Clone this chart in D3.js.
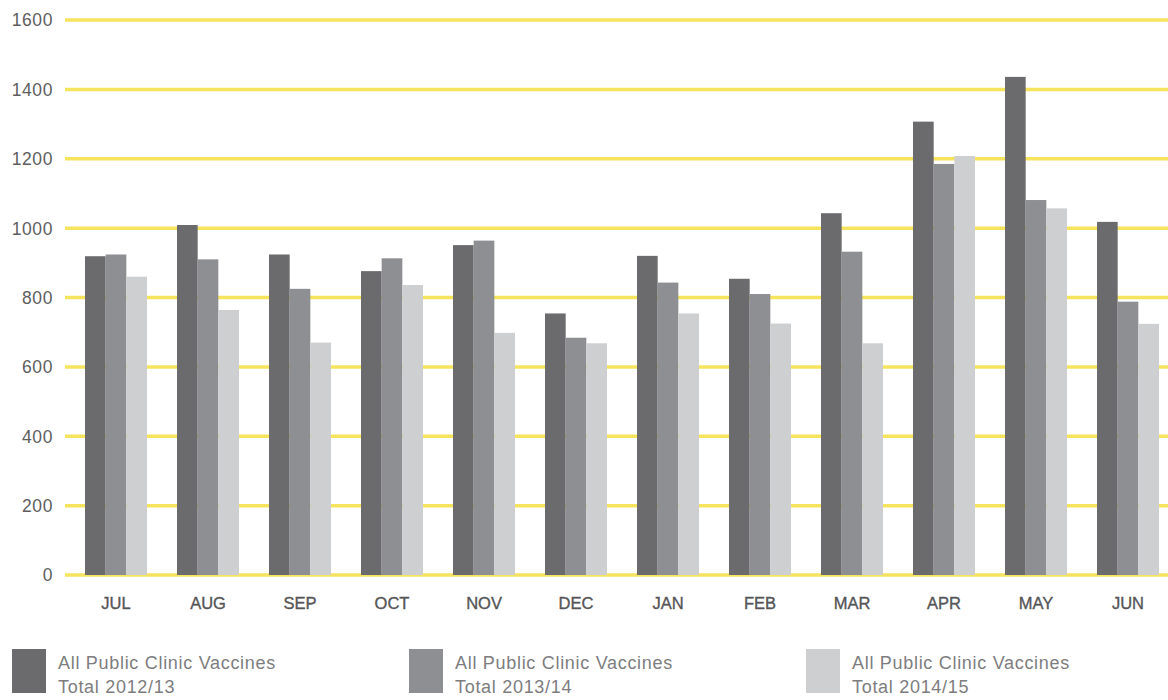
<!DOCTYPE html>
<html>
<head>
<meta charset="utf-8">
<script src="https://cdn.jsdelivr.net/npm/d3@7"></script>
<style>
  html, body { margin: 0; padding: 0; background: #ffffff; }
  svg { display: block; }
  text { font-family: "Liberation Sans", Arial, sans-serif; }
</style>
</head>
<body>
<svg id="chart" width="1168" height="700"></svg>
<script>
const months = ["JUL", "AUG", "SEP", "OCT", "NOV", "DEC", "JAN", "FEB", "MAR", "APR", "MAY", "JUN"];
const seriesNames = ["Total 2012/13", "Total 2013/14", "Total 2014/15"];
const legendTitle = "All Public Clinic Vaccines";
const total2012 = [919, 1009, 924, 876, 951, 754, 920, 854, 1043, 1307, 1436, 1018];
const total2013 = [924, 910, 825, 913, 964, 684, 843, 810, 932, 1185, 1081, 788];
const total2014 = [860, 764, 670, 836, 698, 668, 754, 725, 668, 1208, 1057, 724];
const yTicks = [0, 200, 400, 600, 800, 1000, 1200, 1400, 1600];
const colors = ["#6b6b6d", "#8e8f93", "#cecfd1"];

const seriesValues = [total2012, total2013, total2014];
const svg = d3.select("#chart");

const y = d3.scaleLinear().domain([0, 1600]).range([575, 20]);
const x0 = d3.scaleBand().domain(months).range([70, 1174]).paddingInner(0.326).paddingOuter(0.163);
const x1 = d3.scaleBand().domain(d3.range(seriesNames.length)).range([0, x0.bandwidth()]);

// gridlines
svg.append("g").selectAll("line").data(yTicks).join("line")
  .attr("x1", 65).attr("x2", 1168)
  .attr("y1", d => y(d)).attr("y2", d => y(d))
  .attr("stroke", "#f6e45e").attr("stroke-width", 3.5);

// y axis labels
const yAxis = d3.axisLeft(y).tickValues(yTicks).tickSize(0).tickPadding(0).tickFormat(d3.format("d"));
const gy = svg.append("g").attr("transform", "translate(53,0)").call(yAxis);
gy.select(".domain").remove();
gy.selectAll("text").attr("font-size", 17.5).attr("fill", "#5e5e60").attr("letter-spacing", 0.6)
  .attr("font-family", "Liberation Sans, Arial, sans-serif").attr("dy", "0.34em");

// bars
const groups = svg.append("g").selectAll("g").data(months).join("g")
  .attr("transform", d => `translate(${x0(d)},0)`);
groups.selectAll("rect").data((m, i) => seriesValues.map((s, k) => ({k, v: s[i]}))).join("rect")
  .attr("x", d => x1(d.k)).attr("width", x1.bandwidth())
  .attr("y", d => y(d.v)).attr("height", d => y(0) - y(d.v))
  .attr("fill", d => colors[d.k]);

// x axis labels
const xAxis = d3.axisBottom(x0).tickSize(0).tickPadding(0);
const gx = svg.append("g").attr("transform", "translate(0,609)").call(xAxis);
gx.select(".domain").remove();
gx.selectAll("text").attr("font-size", 16.5).attr("fill", "#555557").attr("dy", 0)
  .attr("font-family", "Liberation Sans, Arial, sans-serif")
  .attr("stroke", "#555557").attr("stroke-width", 0.35);

// legend
const legendX = d3.scalePoint().domain(d3.range(seriesNames.length)).range([12, 806]);
const lg = svg.append("g").selectAll("g").data(seriesNames).join("g")
  .attr("transform", (d, i) => `translate(${legendX(i)},649)`);
lg.append("rect").attr("width", 34).attr("height", 44).attr("fill", (d, i) => colors[i]);
lg.append("text").attr("x", 46).attr("y", 20).text(legendTitle)
  .attr("font-size", 18).attr("letter-spacing", 0.7).attr("fill", "#7d7d80");
lg.append("text").attr("x", 46).attr("y", 44).text(d => d)
  .attr("font-size", 18).attr("letter-spacing", 0.7).attr("fill", "#7d7d80");
</script>
</body>
</html>
